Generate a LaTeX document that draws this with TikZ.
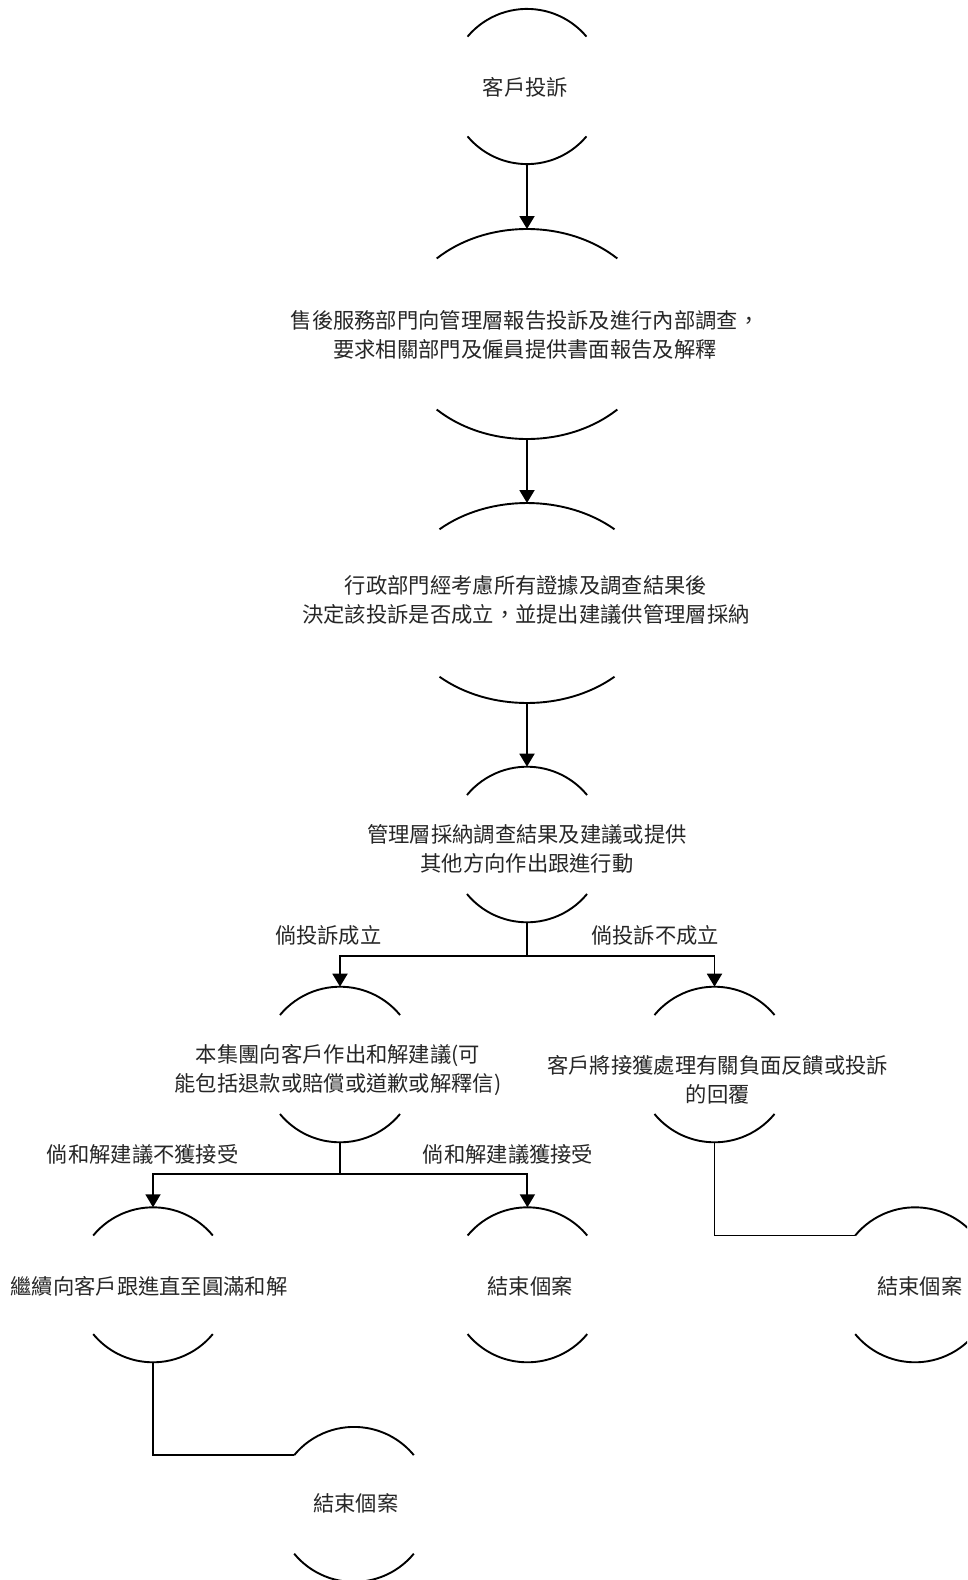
\documentclass[tikz,border=0pt]{standalone}
\usepackage{fontspec}
\newfontfamily\cjk{Noto Sans CJK TC}
\usetikzlibrary{arrows.meta,shapes.geometric,calc}
\tikzset{
  shp/.style={ellipse, draw=none, inner sep=0pt, outer sep=0pt},
  txt/.style={font=\cjk\fontsize{21.3}{29.3}\selectfont, text=black!85, align=center, inner sep=0pt},
  lnk/.style={line width=1.9pt},
  arr/.style={lnk, -{Triangle[length=13pt,width=15pt]}},
}
% name, x, y, a, b, t
\newcommand\capsule[6]{%
  \node[shp, minimum width={2*#4pt}, minimum height={2*#5pt}] (#1) at (#2,#3) {};
  \coordinate (#1-tl) at ($(#1.center)+({180+#6}:#4 and #5)$);
  \coordinate (#1-br) at ($(#1.center)+(#6:#4 and #5)$);
  \draw[lnk] (#1-tl) arc[start angle={180+#6}, end angle={360-#6}, x radius=#4, y radius=#5];
  \draw[lnk] (#1-br) arc[start angle=#6, end angle={180-#6}, x radius=#4, y radius=#5];
}
\begin{document}
\begin{tikzpicture}[x=1pt,y=-1pt]
\useasboundingbox (0,0) rectangle (967,1580);
\clip (0,0) rectangle (967,1580);

\capsule{n1}{527}{86.5}{77.6}{77.6}{40}
\capsule{n2}{527}{334}{130}{105}{46}
\capsule{n3}{527}{603}{129.5}{100}{47.5}
\capsule{n4}{527}{844.5}{77.8}{77.8}{39.5}
\capsule{n5}{340}{1064.5}{77.8}{77.8}{39.5}
\capsule{n6}{714.5}{1064.5}{77.8}{77.8}{39.5}
\capsule{n7}{153}{1284.8}{77.5}{77.5}{39.5}
\capsule{n8}{527.4}{1284.8}{77.5}{77.5}{39.5}
\capsule{n9}{915}{1284.8}{77.5}{77.5}{39.5}
\capsule{n10}{354}{1504.4}{77.5}{77.5}{39.5}

\node[txt] (t1) at (525.3,87.3) {客戶投訴};
\node[txt] (t2) at (525,334.7) {售後服務部門向管理層報告投訴及進行內部調查，\\要求相關部門及僱員提供書面報告及解釋};
\node[txt] (t3) at (526,600) {行政部門經考慮所有證據及調查結果後\\決定該投訴是否成立，並提出建議供管理層採納};
\node[txt] (t4) at (527,849.2) {管理層採納調查結果及建議或提供\\其他方向作出跟進行動};
\node[txt] (t5) at (338,1070.2) {本集團向客戶作出和解建議(可\\能包括退款或賠償或道歉或解釋信)};
\node[txt] (t6) at (717.7,1079.7) {客戶將接獲處理有關負面反饋或投訴\\的回覆};
\node[txt] (t7) at (149,1286.7) {繼續向客戶跟進直至圓滿和解};
\node[txt] (t8) at (530,1286.7) {結束個案};
\node[txt] (t9) at (919.7,1286.7) {結束個案};
\node[txt] (t10) at (355.8,1503.3) {結束個案};

\node[txt] (l1) at (328.3,935) {倘投訴成立};
\node[txt] (l2) at (655,935) {倘投訴不成立};
\node[txt] (l3) at (142.7,1154) {倘和解建議不獲接受};
\node[txt] (l4) at (508,1154) {倘和解建議獲接受};

\coordinate (b1) at (527,956);
\coordinate (b2) at (340,1174.3);

\draw[arr] (n1.south) -- (n2.north);
\draw[arr] (n2.south) -- (n3.north);
\draw[arr] (n3.south) -- (n4.north);
\draw[lnk] (n4.south) -- (b1);
\draw[arr] (b1) -| (n5.north);
\draw[arr] (b1) -| (n6.north);
\draw[lnk] (n5.south) -- (b2);
\draw[arr] (b2) -| (n7.north);
\draw[arr] (b2) -| (n8.north);
\draw[lnk] (n6.south) |- (n9-tl);
\draw[lnk] (n7.south) |- (n10-tl);
\end{tikzpicture}
\end{document}
